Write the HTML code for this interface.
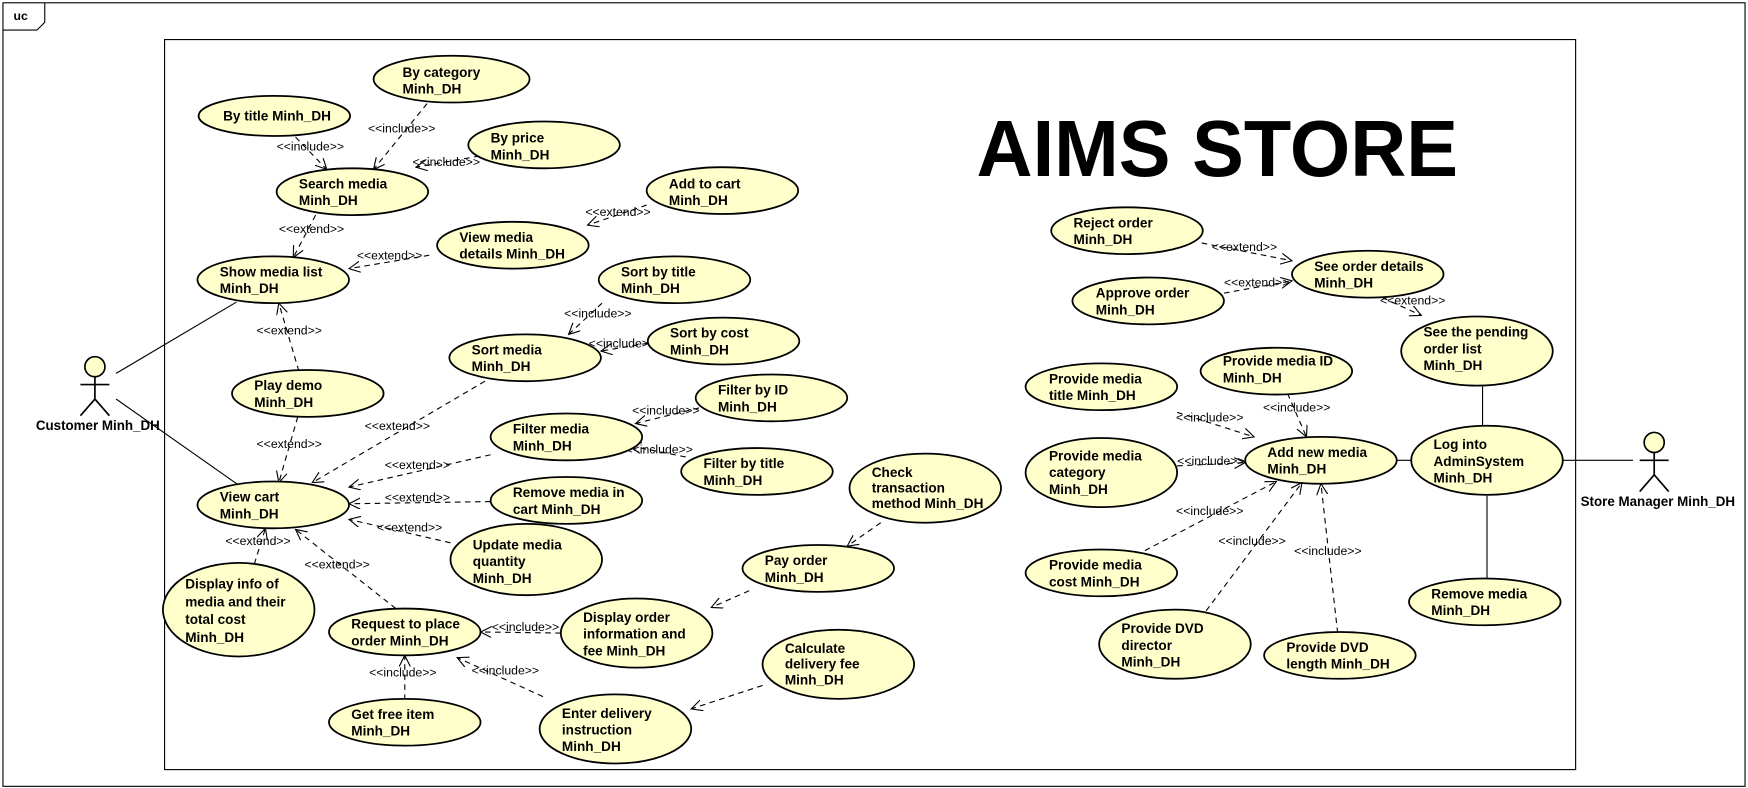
<!DOCTYPE html>
<html><head><meta charset="utf-8"><style>
html,body{margin:0;padding:0;background:#fff;}
svg{display:block}
.u{fill:#ffffcc;stroke:#000;stroke-width:1.6}
.t{font-family:"Liberation Sans Narrow","Liberation Sans",sans-serif;font-weight:bold;font-size:12.2px;fill:#000}
.l{font-family:"Liberation Sans Narrow","Liberation Sans",sans-serif;font-size:11px;fill:#000}
.d{stroke:#000;stroke-width:1;stroke-dasharray:5,4;fill:none}
.s{stroke:#000;stroke-width:1;fill:none}
</style></head><body>
<svg width="1748" height="788" viewBox="0 0 1568 707" xmlns="http://www.w3.org/2000/svg">
<defs><marker id="a" markerWidth="12" markerHeight="12" refX="10" refY="5" orient="auto" markerUnits="userSpaceOnUse"><path d="M0,0 L10,5 L0,10" fill="none" stroke="#000" stroke-width="1"/></marker></defs>
<rect x="2.5" y="2.5" width="1563" height="703" fill="none" stroke="#000"/>
<path d="M2.5,27 H33 L40,20 V2.5" fill="none" stroke="#000"/>
<text x="12" y="18" class="t" style="font-size:11px">uc</text>
<rect x="147.5" y="35.5" width="1266" height="655" fill="none" stroke="#000"/>
<text x="876" y="158" textLength="432" lengthAdjust="spacingAndGlyphs" style="font-family:'Liberation Sans',sans-serif;font-weight:bold;font-size:72px">AIMS STORE</text>

<path class="s" d="M104,335 L212,271 M104,358 L215,436 M1252,413 L1267,413 M1400,413 L1465,413 M1330,347 L1330,382 M1334,445 L1334,519"/>

<g class="d" marker-end="url(#a)">
<path d="M265,123 L293,152"/><path d="M383,93 L335,152"/><path d="M430,140 L373,150"/>
<path d="M283,193 L263,231"/><path d="M385,229 L313,241"/><path d="M580,184 L527,202"/>
<path d="M268,333 L250,272"/><path d="M267,374 L250,433"/>
<path d="M540,272 L510,300"/><path d="M581,308 L539,315"/><path d="M435,342 L280,433"/>
<path d="M627,366 L570,380"/><path d="M615,410 L565,400"/><path d="M440,408 L313,437"/>
<path d="M440,450 L313,452"/><path d="M404,487 L313,466"/><path d="M228,506 L238,474"/>
<path d="M355,546 L265,475"/><path d="M790,469 L760,490"/><path d="M672,530 L638,545"/>
<path d="M503,568 L431,567"/><path d="M487,625 L410,590"/><path d="M363,628 L363,588"/>
<path d="M684,615 L620,636"/>
<path d="M1078,218 L1159,234"/><path d="M1098,263 L1159,252"/><path d="M1240,267 L1275,283"/>
<path d="M1155,353 L1172,392"/><path d="M1056,370 L1125,392"/><path d="M1056,418 L1117,415"/>
<path d="M1027,494 L1145,432"/><path d="M1082,548 L1168,433"/><path d="M1200,568 L1185,434"/>
</g>

<g class="l">
<text x="248" y="135">&lt;&lt;include&gt;&gt;</text><text x="330" y="119">&lt;&lt;include&gt;&gt;</text><text x="370" y="149">&lt;&lt;include&gt;&gt;</text>
<text x="250" y="209">&lt;&lt;extend&gt;&gt;</text><text x="320" y="233">&lt;&lt;extend&gt;&gt;</text><text x="525" y="194">&lt;&lt;extend&gt;&gt;</text>
<text x="230" y="300">&lt;&lt;extend&gt;&gt;</text><text x="230" y="402">&lt;&lt;extend&gt;&gt;</text>
<text x="506" y="285">&lt;&lt;include&gt;&gt;</text><text x="528" y="312">&lt;&lt;include&gt;&gt;</text><text x="327" y="386">&lt;&lt;extend&gt;&gt;</text>
<text x="567" y="372">&lt;&lt;include&gt;&gt;</text><text x="561" y="407">&lt;&lt;include&gt;&gt;</text><text x="345" y="421">&lt;&lt;extend&gt;&gt;</text>
<text x="345" y="450">&lt;&lt;extend&gt;&gt;</text><text x="338" y="477">&lt;&lt;extend&gt;&gt;</text><text x="202" y="489">&lt;&lt;extend&gt;&gt;</text>
<text x="273" y="510">&lt;&lt;extend&gt;&gt;</text><text x="441" y="566">&lt;&lt;include&gt;&gt;</text><text x="423" y="605">&lt;&lt;include&gt;&gt;</text>
<text x="331" y="607">&lt;&lt;include&gt;&gt;</text>
<text x="1087" y="225">&lt;&lt;extend&gt;&gt;</text><text x="1098" y="257">&lt;&lt;extend&gt;&gt;</text><text x="1238" y="273">&lt;&lt;extend&gt;&gt;</text>
<text x="1133" y="369">&lt;&lt;include&gt;&gt;</text><text x="1055" y="378">&lt;&lt;include&gt;&gt;</text><text x="1056" y="417">&lt;&lt;include&gt;&gt;</text>
<text x="1055" y="462">&lt;&lt;include&gt;&gt;</text><text x="1093" y="489">&lt;&lt;include&gt;&gt;</text><text x="1161" y="498">&lt;&lt;include&gt;&gt;</text>
</g>

<g class="u">
<ellipse cx="246" cy="104" rx="68" ry="18"/><ellipse cx="405" cy="71" rx="70" ry="21"/><ellipse cx="488" cy="130" rx="68" ry="21"/>
<ellipse cx="316" cy="172" rx="68" ry="21"/><ellipse cx="648" cy="171" rx="68" ry="21"/><ellipse cx="245" cy="251" rx="68" ry="21"/>
<ellipse cx="460" cy="220" rx="68" ry="21"/><ellipse cx="605" cy="251" rx="68" ry="21"/><ellipse cx="471" cy="321" rx="68" ry="21"/>
<ellipse cx="649" cy="306" rx="68" ry="21"/><ellipse cx="276" cy="353" rx="68" ry="21"/><ellipse cx="692" cy="357" rx="68" ry="21"/>
<ellipse cx="508" cy="392" rx="68" ry="21"/><ellipse cx="679" cy="423" rx="68" ry="21"/><ellipse cx="830" cy="438" rx="68" ry="31"/>
<ellipse cx="245" cy="453" rx="68" ry="21"/><ellipse cx="508" cy="449" rx="68" ry="21"/><ellipse cx="472" cy="502" rx="68" ry="32"/>
<ellipse cx="214" cy="547" rx="68" ry="42"/><ellipse cx="734" cy="510" rx="68" ry="21"/><ellipse cx="363" cy="567" rx="68" ry="21"/>
<ellipse cx="571" cy="568" rx="68" ry="31"/><ellipse cx="752" cy="596" rx="68" ry="31"/><ellipse cx="363" cy="648" rx="68" ry="21"/>
<ellipse cx="552" cy="654" rx="68" ry="31"/>
<ellipse cx="1011" cy="207" rx="68" ry="21"/><ellipse cx="1227" cy="246" rx="68" ry="21"/><ellipse cx="1030" cy="270" rx="68" ry="21"/>
<ellipse cx="1325" cy="315" rx="68" ry="31"/><ellipse cx="1145" cy="333" rx="68" ry="21"/><ellipse cx="988" cy="347" rx="68" ry="21"/>
<ellipse cx="1185" cy="413" rx="68" ry="21"/><ellipse cx="1334" cy="413" rx="68" ry="31"/><ellipse cx="988" cy="424" rx="68" ry="31"/>
<ellipse cx="988" cy="514" rx="68" ry="21"/><ellipse cx="1054" cy="578" rx="68" ry="31"/><ellipse cx="1202" cy="588" rx="68" ry="21"/>
<ellipse cx="1332" cy="540" rx="68" ry="21"/>
</g>

<g class="t">
<text x="200" y="108">By title Minh_DH</text>
<text x="361" y="69">By category</text><text x="361" y="84">Minh_DH</text>
<text x="440" y="128">By price</text><text x="440" y="143">Minh_DH</text>
<text x="268" y="169">Search media</text><text x="268" y="184">Minh_DH</text>
<text x="600" y="169">Add to cart</text><text x="600" y="184">Minh_DH</text>
<text x="197" y="248">Show media list</text><text x="197" y="263">Minh_DH</text>
<text x="412" y="217">View media</text><text x="412" y="232">details Minh_DH</text>
<text x="557" y="248">Sort by title</text><text x="557" y="263">Minh_DH</text>
<text x="423" y="318">Sort media</text><text x="423" y="333">Minh_DH</text>
<text x="601" y="303">Sort by cost</text><text x="601" y="318">Minh_DH</text>
<text x="228" y="350">Play demo</text><text x="228" y="365">Minh_DH</text>
<text x="644" y="354">Filter by ID</text><text x="644" y="369">Minh_DH</text>
<text x="460" y="389">Filter media</text><text x="460" y="404">Minh_DH</text>
<text x="631" y="420">Filter by title</text><text x="631" y="435">Minh_DH</text>
<text x="782" y="428">Check</text><text x="782" y="442">transaction</text><text x="782" y="456">method Minh_DH</text>
<text x="197" y="450">View cart</text><text x="197" y="465">Minh_DH</text>
<text x="460" y="446">Remove media in</text><text x="460" y="461">cart Minh_DH</text>
<text x="424" y="493">Update media</text><text x="424" y="508">quantity</text><text x="424" y="523">Minh_DH</text>
<text x="166" y="528">Display info of</text><text x="166" y="544">media and their</text><text x="166" y="560">total cost</text><text x="166" y="576">Minh_DH</text>
<text x="686" y="507">Pay order</text><text x="686" y="522">Minh_DH</text>
<text x="315" y="564">Request to place</text><text x="315" y="579">order Minh_DH</text>
<text x="523" y="558">Display order</text><text x="523" y="573">information and</text><text x="523" y="588">fee Minh_DH</text>
<text x="704" y="586">Calculate</text><text x="704" y="600">delivery fee</text><text x="704" y="614">Minh_DH</text>
<text x="315" y="645">Get free item</text><text x="315" y="660">Minh_DH</text>
<text x="504" y="644">Enter delivery</text><text x="504" y="659">instruction</text><text x="504" y="674">Minh_DH</text>
<text x="963" y="204">Reject order</text><text x="963" y="219">Minh_DH</text>
<text x="1179" y="243">See order details</text><text x="1179" y="258">Minh_DH</text>
<text x="983" y="267">Approve order</text><text x="983" y="282">Minh_DH</text>
<text x="1277" y="302">See the pending</text><text x="1277" y="317">order list</text><text x="1277" y="332">Minh_DH</text>
<text x="1097" y="328">Provide media ID</text><text x="1097" y="343">Minh_DH</text>
<text x="941" y="344">Provide media</text><text x="941" y="359">title Minh_DH</text>
<text x="1137" y="410">Add new media</text><text x="1137" y="425">Minh_DH</text>
<text x="1286" y="403">Log into</text><text x="1286" y="418">AdminSystem</text><text x="1286" y="433">Minh_DH</text>
<text x="941" y="413">Provide media</text><text x="941" y="428">category</text><text x="941" y="443">Minh_DH</text>
<text x="941" y="511">Provide media</text><text x="941" y="526">cost Minh_DH</text>
<text x="1006" y="568">Provide DVD</text><text x="1006" y="583">director</text><text x="1006" y="598">Minh_DH</text>
<text x="1154" y="585">Provide DVD</text><text x="1154" y="600">length Minh_DH</text>
<text x="1284" y="537">Remove media</text><text x="1284" y="552">Minh_DH</text>
</g>

<g fill="#ffffcc" stroke="#000" stroke-width="1.5">
<circle cx="85" cy="329" r="9"/><path d="M85,338 V358 M72,345 H98 M72,373 L85,358 L98,373" fill="none"/>
<circle cx="1484" cy="397" r="9"/><path d="M1484,406 V426 M1471,413 H1497 M1471,441 L1484,426 L1497,441" fill="none"/>
</g>
<text x="32" y="386" class="t" style="font-size:12px">Customer Minh_DH</text>
<text x="1418" y="454" class="t" style="font-size:12px">Store Manager Minh_DH</text>
</svg>
</body></html>
